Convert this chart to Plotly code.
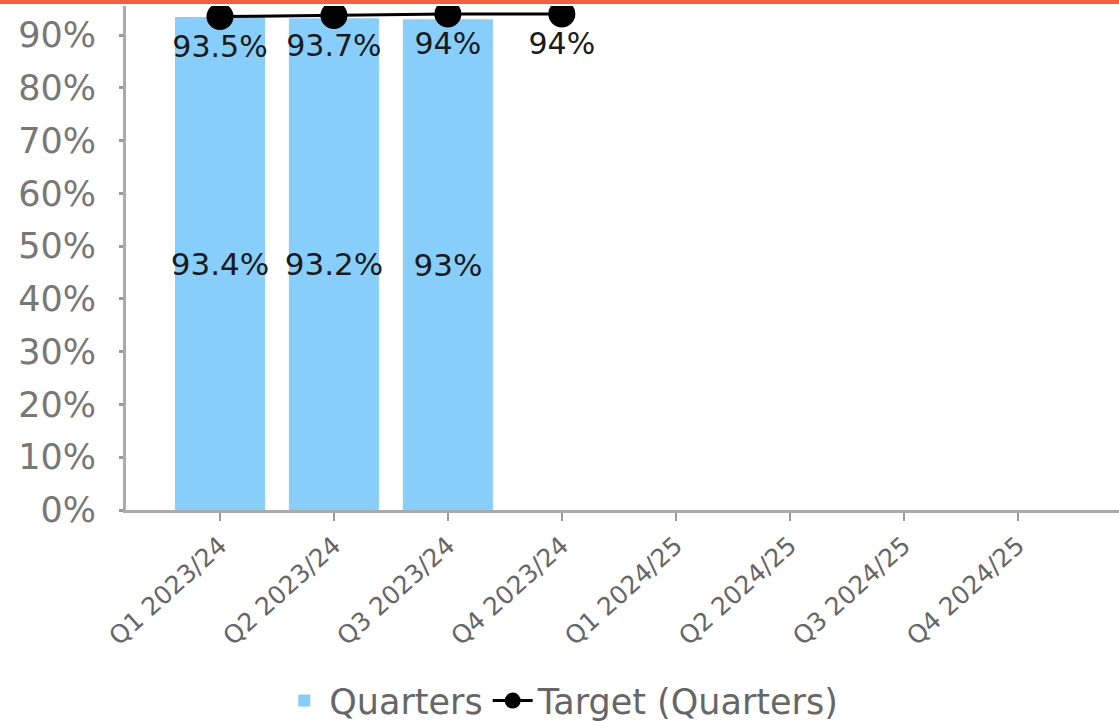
import plotly.graph_objects as go

categories = ["Q1 2023/24", "Q2 2023/24", "Q3 2023/24", "Q4 2023/24",
              "Q1 2024/25", "Q2 2024/25", "Q3 2024/25", "Q4 2024/25"]
quarters = [93.4, 93.2, 93.0, None, None, None, None, None]
target = [93.5, 93.7, 94.0, 94.0, None, None, None, None]
y_ticks = [0, 10, 20, 30, 40, 50, 60, 70, 80, 90]
y_tick_labels = [f"{v}%" for v in y_ticks]

FONT = "DejaVu Sans"
fig = go.Figure()
fig.add_trace(go.Bar(
    x=categories, y=quarters, name="Quarters",
    marker=dict(color="#87CEFA", line=dict(width=0)),
    width=0.79,
    texttemplate="%{y}%", textposition="inside", insidetextanchor="middle",
    textangle=0, constraintext="none",
    textfont=dict(family=FONT, size=31, color="#1a1a1a"),
    cliponaxis=False,
))
fig.add_trace(go.Scatter(
    x=categories, y=target, name="Target (Quarters)",
    mode="lines+markers+text",
    line=dict(color="#000000", width=3),
    marker=dict(color="#000000", size=27),
    texttemplate="%{y}%", textposition="bottom center",
    textfont=dict(family=FONT, size=30, color="#1a1a1a"),
    cliponaxis=True,
))

fig.update_layout(
    width=1119, height=721,
    margin=dict(l=126, r=0, t=6, b=211, autoexpand=False),
    plot_bgcolor="white", paper_bgcolor="white",
    showlegend=True,
    legend=dict(orientation="h", xref="container", yref="container",
                x=0.502, xanchor="center", y=0.028, yanchor="middle",
                font=dict(family=FONT, size=35, color="#666666"),
                tracegroupgap=0, itemwidth=40),
    xaxis=dict(
        range=[-0.825, 7.89], showline=True, linecolor="#aaaaaa", linewidth=3,
        ticks="outside", ticklen=8, tickcolor="#999999", tickwidth=2,
        tickangle=-42, showgrid=False, zeroline=False, automargin=False,
        tickfont=dict(family=FONT, size=25, color="#666666"),
    ),
    yaxis=dict(
        range=[0, 95.5], showline=True, linecolor="#aaaaaa", linewidth=3,
        tickvals=y_ticks, ticktext=y_tick_labels,
        ticks="outside", ticklen=4, tickcolor="#999999", tickwidth=3,
        ticklabelstandoff=16,
        showgrid=False, zeroline=False, automargin=False,
        tickfont=dict(family=FONT, size=35, color="#777777"),
    ),
    shapes=[dict(type="rect", xref="paper", yref="paper", x0=-0.2, x1=1.0,
                 y0=1.0 + 2/504, y1=1.0 + 6/504, fillcolor="#F4603A", line=dict(width=0),
                 layer="above")],
)

fig.write_html("out.html", config={"displayModeBar": False},
               post_script="document.body.style.margin='0';")
